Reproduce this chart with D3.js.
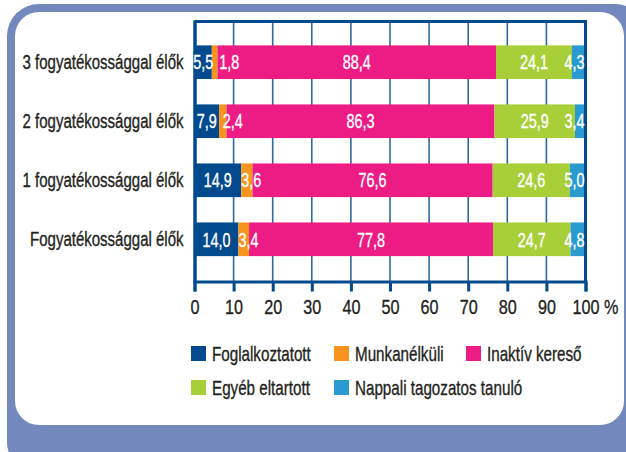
<!DOCTYPE html>
<html>
<head>
<meta charset="utf-8">
<script src="https://cdn.jsdelivr.net/npm/d3@7"></script>
<style>
  body { margin: 0; background: #fff; }
  svg { display: block; }
  text { font-family: "Liberation Sans", Arial, sans-serif; }
</style>
</head>
<body>
<svg width="626" height="452"></svg>
<script>
// categories top to bottom
var categories = ["3 fogyatékossággal élők", "2 fogyatékossággal élők", "1 fogyatékossággal élők", "Fogyatékossággal élők"];
var seriesNames = ["Foglalkoztatott", "Munkanélküli", "Inaktív kereső", "Egyéb eltartott", "Nappali tagozatos tanuló"];
var foglalkoztatott = [5.5, 7.9, 14.9, 14.0];
var munkanelkuli = [1.8, 2.4, 3.6, 3.4];
var inaktiv = [88.4, 86.3, 76.6, 77.8];
var egyeb = [24.1, 25.9, 24.6, 24.7];
var nappali = [4.3, 3.4, 5.0, 4.8];
var ticks = [0, 10, 20, 30, 40, 50, 60, 70, 80, 90, 100];
var colors = ["#004a8d", "#f7941e", "#ec1c84", "#a8cf38", "#2a9bd1"];

var allValues = [foglalkoztatott, munkanelkuli, inaktiv, egyeb, nappali];
var rows = categories.map(function(c, i) {
    var r = { cat: c };
    seriesNames.forEach(function(s, j) { r[s] = allValues[j][i]; });
    return r;
});

// squeeze text horizontally to mimic the condensed font
var sxCat = 0.77, sxVal = 0.72, sxTick = 0.77, sxLeg = 0.76;

var svg = d3.select("svg");

// frame
svg.append("rect").attr("x", 7).attr("y", 4).attr("width", 640).attr("height", 470)
   .attr("rx", 32).attr("fill", "#7389bd");
svg.append("rect").attr("x", 15).attr("y", 12).attr("width", 609).attr("height", 413)
   .attr("rx", 24).attr("fill", "#fff");

var plotLeft = 194.5, plotRight = 585.5, plotTop = 20, plotBottom = 281.5;

var x = d3.scaleLinear().domain([0, 100]).range([plotLeft, plotRight]);
var y = d3.scaleBand().domain(categories).range([plotTop, plotBottom]).padding(0.43);

var stack = d3.stack().keys(seriesNames).offset(d3.stackOffsetExpand);
var layers = stack(rows);

// gridlines
svg.append("g").selectAll("line")
   .data(ticks.slice(1, -1))
   .enter().append("line")
   .attr("x1", function(d) { return x(d); })
   .attr("x2", function(d) { return x(d); })
   .attr("y1", plotTop).attr("y2", plotBottom)
   .attr("stroke", "#2f68a6").attr("stroke-width", 1.6);

// bars
var g = svg.append("g");
layers.forEach(function(layer, j) {
    g.selectAll(".bar" + j)
     .data(layer)
     .enter().append("rect")
     .attr("class", "bar" + j)
     .attr("x", function(d) { return x(d[0] * 100); })
     .attr("width", function(d) { return x(d[1] * 100) - x(d[0] * 100); })
     .attr("y", function(d) { return y(d.data.cat); })
     .attr("height", y.bandwidth())
     .attr("fill", colors[j]);
});

// plot frame top / right
svg.append("line").attr("x1", plotLeft).attr("x2", plotRight + 1.5).attr("y1", plotTop + 1.5).attr("y2", plotTop + 1.5)
   .attr("stroke", "#004a8d").attr("stroke-width", 3);
svg.append("line").attr("x1", plotRight).attr("x2", plotRight).attr("y1", plotTop).attr("y2", plotBottom)
   .attr("stroke", "#004a8d").attr("stroke-width", 3);

// axes
var xAxis = svg.append("g")
   .attr("transform", "translate(0," + plotBottom + ")")
   .call(d3.axisBottom(x).tickValues(ticks).tickSize(10).tickPadding(8)
         .tickFormat(function(d) { return d === 100 ? "100 %" : d; }));
xAxis.select(".domain").attr("stroke", "#004a8d").attr("stroke-width", 3);
xAxis.selectAll(".tick line").attr("stroke", "#004a8d").attr("stroke-width", 3);
xAxis.selectAll(".tick text")
   .attr("fill", "#231f20").attr("font-size", 21)
   .attr("stroke", "#231f20").attr("stroke-width", 0.35)
   .attr("font-family", null)
   .attr("transform", "scale(" + sxTick + ",1)")
   .each(function(d) {
       if (d === 100) {
           var full = this.getComputedTextLength();
           var part = this.getSubStringLength(0, 3);
           d3.select(this).attr("dx", (full - part) / 2);
       }
   });

var yAxis = svg.append("g")
   .attr("transform", "translate(" + plotLeft + ",0)")
   .call(d3.axisLeft(y).tickSize(0).tickPadding(11));
yAxis.select(".domain").attr("stroke", "#004a8d").attr("stroke-width", 3.5);
yAxis.selectAll(".tick text")
   .attr("fill", "#231f20").attr("font-size", 19.5)
   .attr("stroke", "#231f20").attr("stroke-width", 0.35)
   .attr("font-family", null)
   .attr("x", -11 / sxCat)
   .attr("transform", "scale(" + sxCat + ",1)")
   .attr("dy", "0.36em");

// value labels
var labels = svg.append("g");
rows.forEach(function(r, i) {
    var prevEnd = plotLeft;
    layers.forEach(function(layer, j) {
        var d = layer[i];
        var x0 = x(d[0] * 100), x1 = x(d[1] * 100);
        var t = labels.append("text")
            .attr("dy", "0.36em")
            .attr("fill", "#fff")
            .attr("stroke", "#fff").attr("stroke-width", 0.35)
            .attr("font-size", 20)
            .text(d3.format(".1f")(allValues[j][i]).replace(".", ","));
        var w = t.node().getComputedTextLength() * sxVal;
        var tx;
        if (j === 1) {
            tx = Math.max(x0, prevEnd + 6);
        } else if (j === layers.length - 1) {
            tx = x1 - 1 - w;
        } else {
            tx = (x0 + x1) / 2 - w / 2;
        }
        t.attr("transform", "translate(" + tx + "," + (y(r.cat) + y.bandwidth() / 2) + ") scale(" + sxVal + ",1)");
        prevEnd = tx + w;
    });
});

// legend
var legendPos = [[191, 346], [334, 346], [466, 346], [191, 380], [334, 380]];
var legend = svg.append("g").selectAll("g")
   .data(seriesNames)
   .enter().append("g")
   .attr("transform", function(d, i) { return "translate(" + legendPos[i][0] + "," + legendPos[i][1] + ")"; });
legend.append("rect").attr("width", 15).attr("height", 15)
   .attr("fill", function(d, i) { return colors[i]; });
legend.append("text")
   .attr("transform", "translate(21,7.5) scale(" + sxLeg + ",1)")
   .attr("dy", "0.36em")
   .attr("font-size", 20).attr("fill", "#231f20")
   .attr("stroke", "#231f20").attr("stroke-width", 0.35)
   .text(function(d) { return d; });
</script>
</body>
</html>
